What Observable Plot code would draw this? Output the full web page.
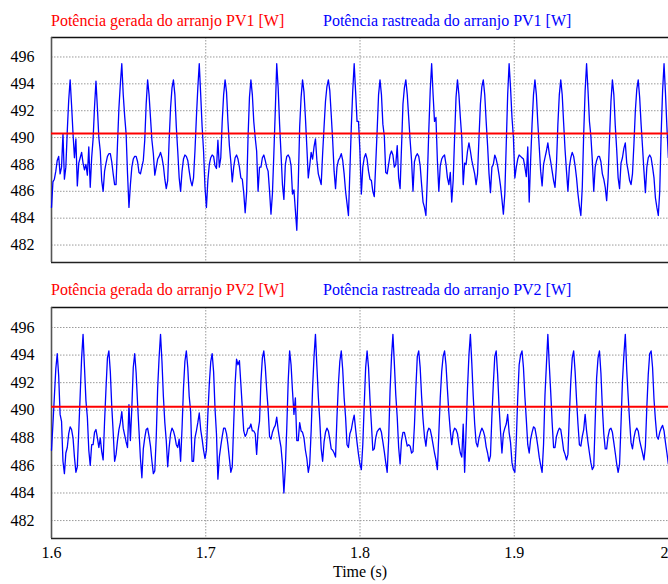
<!DOCTYPE html>
<html><head><meta charset="utf-8">
<script src="https://cdn.jsdelivr.net/npm/d3@7"></script>
<script src="https://cdn.jsdelivr.net/npm/@observablehq/plot@0.6"></script>
<style>
body{margin:0;background:#fff;}
#wrap{position:relative;width:668px;height:584px;overflow:hidden;font-family:"Liberation Serif","Times New Roman",serif;background:#fff;}
.ttl{position:absolute;font-size:16px;line-height:16px;white-space:nowrap;}
.plot{position:absolute;left:0;}
</style></head><body>
<div id="wrap">
<div class="ttl" id="t1a" style="left:51px;top:12.5px;color:#ff0000"></div>
<div class="ttl" id="t1b" style="left:323px;top:12.5px;color:#0000ff"></div>
<div class="plot" id="p1" style="top:36px"></div>
<div class="ttl" id="t2a" style="left:51px;top:281.5px;color:#ff0000"></div>
<div class="ttl" id="t2b" style="left:323px;top:281.5px;color:#0000ff"></div>
<div class="plot" id="p2" style="top:306px"></div>
</div>
<script>
// sampling of the traces
const timeStart = 1.6;
const sampleStep = 0.00093;

// generated power (red, constant)
const pv1Generated = 490.3;
const pv2Generated = 490.25;

// tracked power PV1 (blue)
const pv1Tracked = [
484.8,486.7,486.9,487.5,488.3,488.6,487.3,487.8,490.3,486.9,487.8,490.5,492.8,
494.3,492.4,490.3,488.5,489.9,486.4,488.1,488.5,488.9,488.1,487.6,488.0,487.2,489.3,486.3,488.5,489.9,492.3,
494.2,492.2,490.0,489.0,486.8,486.0,487.5,488.1,488.6,488.8,488.8,488.2,487.3,486.5,486.5,489.5,492.2,494.0,
495.5,493.2,491.6,490.3,487.3,484.8,486.5,487.8,488.4,488.6,488.6,488.2,487.4,487.3,487.8,488.3,489.8,492.5,
494.3,493.2,491.5,489.8,488.8,487.2,487.8,488.4,488.6,488.9,488.5,487.9,486.9,486.2,486.8,489.8,492.2,493.7,
494.3,493.2,490.8,489.0,487.0,486.0,487.5,488.4,488.7,488.6,488.3,487.5,486.8,486.4,487.0,489.0,491.5,493.7,
495.5,493.2,490.8,489.0,486.3,484.8,486.8,488.0,488.5,488.7,488.6,487.9,487.7,489.8,487.8,488.5,491.2,493.2,
494.3,493.4,491.2,489.4,488.2,486.7,487.8,488.5,488.7,488.4,487.8,487.0,486.9,485.9,484.4,485.9,490.0,493.0,
494.3,493.2,491.2,490.0,489.0,486.0,487.8,487.8,488.5,488.7,488.3,487.8,487.5,486.0,484.3,485.8,488.8,492.0,
495.5,493.7,491.0,488.8,486.5,485.4,488.0,488.6,488.7,488.5,487.9,485.8,486.1,484.6,483.1,486.5,490.8,493.0,
494.3,493.4,491.5,489.3,487.0,487.9,488.9,488.4,489.3,489.9,488.3,487.3,486.9,486.5,488.8,490.8,492.7,493.8,
494.3,493.5,491.7,489.8,487.5,486.2,487.8,488.3,488.5,488.8,488.3,487.3,486.0,485.1,484.2,487.5,490.8,493.5,
495.5,493.4,491.2,491.2,489.0,485.8,487.8,488.5,488.8,488.4,487.5,486.9,486.8,486.0,485.6,488.0,490.5,493.2,
494.3,493.2,491.0,490.1,487.4,487.3,488.0,488.7,489.0,488.7,487.8,488.0,489.4,487.0,486.2,489.3,492.5,493.7,
494.3,493.2,491.5,489.8,488.3,486.0,488.2,488.6,488.8,488.6,487.9,486.5,485.2,484.8,484.2,487.0,490.5,493.5,
495.5,493.2,491.2,491.5,488.3,486.0,487.9,488.4,488.6,488.7,488.0,487.0,486.5,487.4,485.2,486.8,490.0,493.0,
494.3,493.2,491.5,490.0,486.5,488.1,488.0,489.0,489.6,489.0,488.3,487.8,487.3,486.5,487.3,490.0,492.5,493.8,
494.3,493.2,491.2,489.4,487.3,485.9,487.8,488.0,488.7,488.4,487.9,487.2,486.4,485.4,484.3,485.8,489.5,493.2,
495.5,493.7,491.5,490.0,487.0,487.8,488.4,488.7,488.6,488.5,488.4,487.8,487.1,489.3,485.2,488.3,491.0,493.2,
494.3,493.2,491.1,489.3,487.5,486.4,488.0,488.5,489.0,489.6,488.8,488.2,487.5,486.8,486.3,488.0,491.0,493.2,
494.3,493.2,491.1,489.1,487.5,486.0,487.8,488.5,488.9,488.6,487.9,487.0,485.8,484.9,484.2,486.3,490.3,493.5,
495.5,493.5,491.2,490.1,488.3,486.0,487.8,488.3,488.6,488.6,488.2,487.3,486.9,486.3,485.3,487.0,490.0,492.7,
494.3,493.2,490.9,489.1,487.0,486.2,488.1,488.5,489.2,489.6,488.1,487.5,486.8,486.5,487.3,489.5,492.0,493.6,
494.3,493.0,491.0,489.3,487.5,485.9,487.8,488.5,488.7,488.5,487.8,487.0,485.5,484.8,484.2,486.0,490.3,493.5,
495.5,493.3,490.8,488.5
];

// tracked power PV2 (blue)
const pv2Tracked = [
487.1,489.0,491.0,493.0,
494.1,492.5,489.7,489.2,486.3,485.4,486.9,487.3,488.3,488.8,488.6,488.0,486.6,485.5,485.9,488.5,491.1,493.8,
495.5,493.1,490.7,489.5,487.1,486.0,487.5,487.5,488.4,488.6,488.0,487.3,488.0,487.0,486.4,489.2,491.6,493.8,
494.3,492.8,490.3,488.4,486.3,486.8,487.8,488.6,489.1,489.9,488.7,488.2,487.7,487.3,490.4,487.8,490.2,493.1,
494.1,492.7,490.5,488.5,486.5,485.1,487.2,488.0,488.6,488.7,488.1,487.4,486.3,485.4,485.6,488.0,491.6,493.8,
495.5,493.55,491.0,489.1,487.8,485.9,487.3,488.3,488.7,488.5,488.1,487.5,487.3,487.9,486.3,488.7,491.6,493.55,
494.3,493.1,491.0,489.9,486.3,486.3,488.0,488.5,489.1,489.8,488.6,487.9,487.1,486.5,487.1,489.7,491.9,493.5,
494.1,492.8,490.1,488.3,485.0,486.6,487.4,488.1,488.7,488.7,488.3,487.5,486.5,485.5,485.9,489.0,491.9,493.7,
493.3,493.6,491.9,490.2,488.5,488.1,488.3,488.7,488.7,489.0,488.5,488.5,488.3,486.8,488.5,489.2,492.1,493.8,
494.3,493.2,491.5,490.1,488.1,487.9,488.4,488.7,488.9,489.5,488.6,487.9,487.3,486.1,484.0,485.8,488.7,492.1,
494.3,493.3,491.4,489.7,490.9,487.8,487.8,489.1,488.5,488.4,488.0,487.1,486.5,485.5,486.1,488.5,491.6,493.9,
495.5,493.2,491.0,489.3,487.2,486.3,487.7,488.4,488.7,488.5,487.9,487.2,487.1,486.9,486.6,489.5,491.9,493.55,
494.3,492.95,490.9,489.5,487.5,487.3,488.3,488.6,489.2,489.65,488.6,487.65,486.8,486.1,485.7,487.5,490.4,493.1,
494.3,493.1,490.8,489.0,487.1,487.2,488.0,488.45,488.6,488.7,488.4,487.7,487.0,486.2,485.5,487.8,491.4,493.8,
495.5,493.4,491.1,489.5,487.3,486.1,487.8,488.4,488.4,487.9,487.4,487.5,487.4,486.9,487.0,488.9,491.6,493.9,
494.3,493.1,491.0,489.35,488.1,487.4,488.4,488.7,488.6,488.1,487.5,486.9,486.4,485.7,488.3,490.9,492.8,493.9,
494.3,493.3,491.5,489.8,488.5,487.5,488.4,488.7,488.6,488.3,487.5,486.9,486.6,489.0,485.5,488.5,491.6,494.0,
495.5,493.4,491.0,489.0,487.65,487.35,488.0,488.4,488.7,488.5,488.1,487.35,486.9,486.3,486.7,489.6,491.9,493.9,
494.3,492.6,490.3,488.5,486.9,488.3,488.7,489.0,489.7,488.4,487.65,486.2,485.7,485.5,487.8,490.9,493.3,494.0,
494.3,493.1,491.0,489.3,487.5,486.9,487.9,488.4,488.8,488.7,488.1,487.4,486.6,486.0,485.5,487.5,491.1,493.3,
495.5,493.3,491.3,489.1,487.3,487.3,488.1,488.45,488.7,488.6,487.9,487.1,486.8,486.4,486.8,489.7,492.1,493.8,
494.3,492.8,490.8,489.0,487.5,487.4,488.1,488.6,489.7,488.5,487.65,486.9,486.2,485.7,485.9,489.2,492.35,493.8,
494.3,492.7,490.2,488.3,487.2,487.2,488.1,488.6,488.7,488.4,487.65,486.9,486.1,485.5,486.1,489.0,492.1,494.0,
495.5,492.9,491.0,489.2,487.65,487.2,488.0,488.5,488.7,488.5,487.8,487.35,486.9,486.4,487.4,490.2,492.6,494.1,
494.3,493.1,490.8,489.3,488.1,487.9,488.4,488.7,488.9,488.5,487.65,486.9,486.1
];

const yTicks = [482, 484, 486, 488, 490, 492, 494, 496];
const yDomain = [480.7, 497.45];
const xTicks = [1.6, 1.7, 1.8, 1.9, 2.0];
const xTickLabels = ["1.6", "1.7", "1.8", "1.9", "2"];
const xDomain = [1.6, 2.0];
const xLabel = "Time (s)";
const titlesGenerated = ["Potência gerada do arranjo PV1 [W]", "Potência gerada do arranjo PV2 [W]"];
const titlesTracked = ["Potência rastreada do arranjo PV1 [W]", "Potência rastreada do arranjo PV2 [W]"];

document.getElementById("t1a").textContent = titlesGenerated[0];
document.getElementById("t1b").textContent = titlesTracked[0];
document.getElementById("t2a").textContent = titlesGenerated[1];
document.getElementById("t2b").textContent = titlesTracked[1];

const FONT = "Liberation Serif, Times New Roman, serif";

function panel(values, generated, height, marginBottom, withXAxis) {
  const data = values.map((v, i) => ({t: timeStart + i * sampleStep, v}));
  const dotted = {stroke: "#9a9a9a", strokeOpacity: 1, strokeWidth: 1, strokeDasharray: "1.5,1.5"};
  const marks = [
    Plot.gridY(yTicks, dotted),
    Plot.gridX(xTicks.slice(1, 4), dotted),
    Plot.ruleY([yDomain[1]], {stroke: "#111", strokeWidth: 1.3}),
    Plot.ruleY([yDomain[0]], {stroke: "#222", strokeWidth: 1.3}),
    Plot.ruleX([xDomain[0]], {stroke: "#555", strokeWidth: 1.6}),
    Plot.line(data, {x: "t", y: "v", stroke: "#0000ff", strokeWidth: 1.3}),
    Plot.ruleY([generated], {stroke: "#ff0000", strokeWidth: 2}),
    Plot.axisY(yTicks, {tickSize: 0, tickPadding: 17, fontSize: 16, fill: "#000", label: null})
  ];
  if (withXAxis) {
    marks.push(
      Plot.text(xTickLabels.slice(0, 4), {x: (d, i) => xTicks[i], text: d => d, frameAnchor: "bottom", dy: 19, fontSize: 16, fill: "#000"}),
      Plot.text(xTickLabels.slice(4), {x: (d, i) => xTicks[4 + i], text: d => d, frameAnchor: "bottom", dy: 19, fontSize: 16, fill: "#000", textAnchor: "end"}),
      Plot.text([xLabel], {text: d => d, frameAnchor: "bottom", dy: 38, fontSize: 16, fill: "#000"})
    );
  }
  return Plot.plot({
    width: 668,
    height,
    marginLeft: 51,
    marginRight: 0,
    marginTop: 1,
    marginBottom,
    style: {fontFamily: FONT, fontSize: "16px", background: "transparent", color: "#000", overflow: "visible"},
    x: {domain: xDomain, axis: null},
    y: {domain: yDomain, axis: null},
    marks
  });
}

document.getElementById("p1").appendChild(panel(pv1Tracked, pv1Generated, 228, 2, false));
document.getElementById("p2").appendChild(panel(pv2Tracked, pv2Generated, 278, 46, true));
</script>
</body></html>
